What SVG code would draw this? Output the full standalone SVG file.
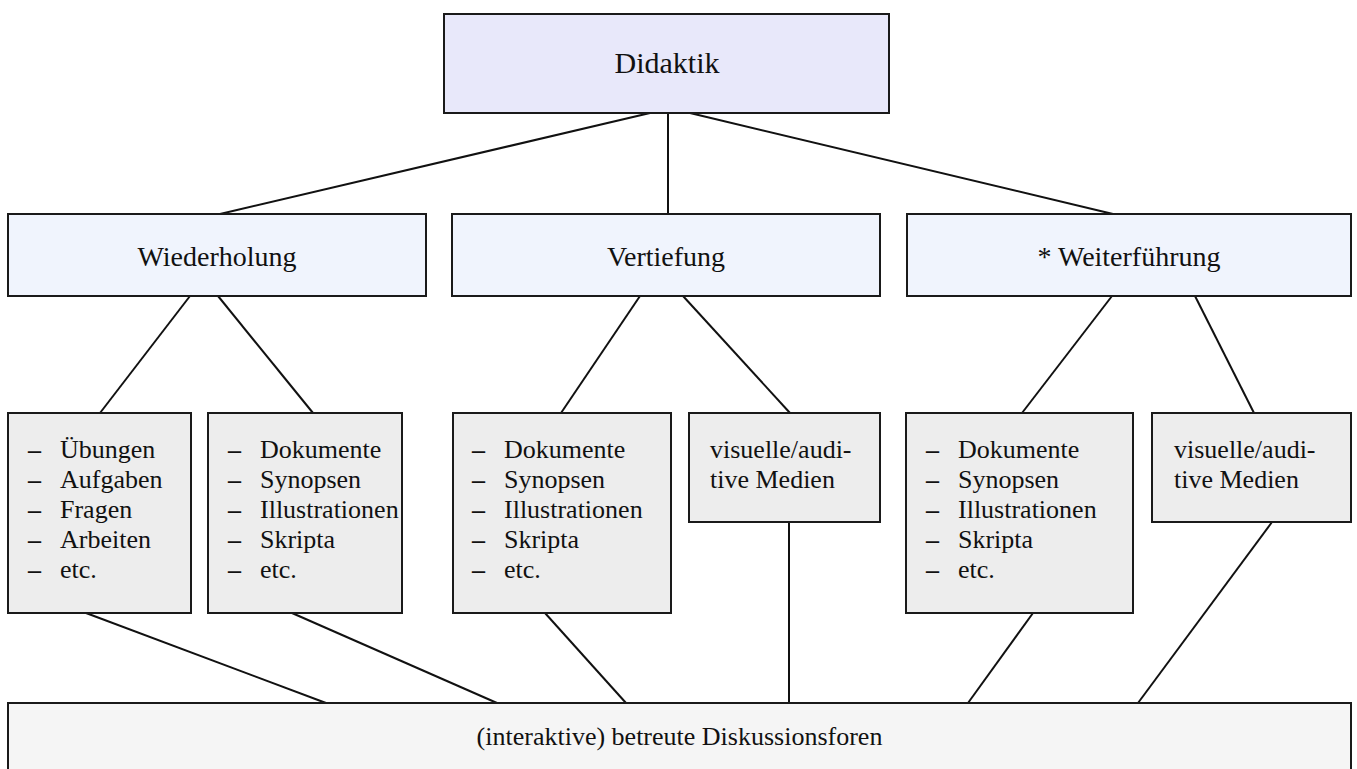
<svg xmlns="http://www.w3.org/2000/svg" width="1357" height="769" viewBox="0 0 1357 769">
<style>
  .box { stroke: #1a1a1a; stroke-width: 2; }
  .top { fill: #e8e8fa; }
  .mid { fill: #f0f4fd; }
  .leaf { fill: #ededed; }
  .base { fill: #f5f5f5; }
  text { font-family: "Liberation Serif", "Times New Roman", serif; fill: #111; }
  .t30 { font-size: 30px; }
  .t28 { font-size: 28px; }
  .t26 { font-size: 26px; }
  .dash { font-weight: bold; }
  .conn line { stroke: #111; stroke-width: 2; }
</style>
<rect width="1357" height="769" fill="#ffffff"/>
<g id="connectors" class="conn">
  <line x1="650" y1="113" x2="220" y2="214"/>
  <line x1="668" y1="113" x2="668" y2="214"/>
  <line x1="690" y1="113" x2="1113" y2="214"/>
  <line x1="190" y1="296" x2="100" y2="413"/>
  <line x1="218" y1="296" x2="313" y2="413"/>
  <line x1="640" y1="296" x2="561" y2="413"/>
  <line x1="683" y1="296" x2="790" y2="413"/>
  <line x1="1112" y1="296" x2="1022" y2="413"/>
  <line x1="1195" y1="296" x2="1254" y2="413"/>
  <line x1="86" y1="613" x2="326" y2="703"/>
  <line x1="292" y1="613" x2="497" y2="703"/>
  <line x1="545" y1="613" x2="626" y2="703"/>
  <line x1="789" y1="522" x2="789" y2="703"/>
  <line x1="1033" y1="613" x2="968" y2="703"/>
  <line x1="1272" y1="522" x2="1138" y2="703"/>
</g>
<g id="didaktik">
  <rect class="box top" x="444" y="14" width="445" height="99"/>
  <text class="t30" x="667" y="73" text-anchor="middle">Didaktik</text>
</g>
<g id="wiederholung">
  <rect class="box mid" x="8" y="214" width="418" height="82"/>
  <text class="t28" x="217" y="266" text-anchor="middle">Wiederholung</text>
</g>
<g id="vertiefung">
  <rect class="box mid" x="452" y="214" width="428" height="82"/>
  <text class="t28" x="666" y="266" text-anchor="middle">Vertiefung</text>
</g>
<g id="weiterfuehrung">
  <rect class="box mid" x="907" y="214" width="444" height="82"/>
  <text class="t28" x="1129" y="266" text-anchor="middle">* Weiterführung</text>
</g>
<g id="uebungen">
  <rect class="box leaf" x="8" y="413" width="183" height="200"/>
  <text class="t26 dash" x="28" y="458">–</text><text class="t26" x="60" y="458">Übungen</text>
  <text class="t26 dash" x="28" y="488">–</text><text class="t26" x="60" y="488">Aufgaben</text>
  <text class="t26 dash" x="28" y="518">–</text><text class="t26" x="60" y="518">Fragen</text>
  <text class="t26 dash" x="28" y="548">–</text><text class="t26" x="60" y="548">Arbeiten</text>
  <text class="t26 dash" x="28" y="578">–</text><text class="t26" x="60" y="578">etc.</text>
</g>
<g id="dokumente1">
  <rect class="box leaf" x="208" y="413" width="194" height="200"/>
  <text class="t26 dash" x="228" y="458">–</text><text class="t26" x="260" y="458">Dokumente</text>
  <text class="t26 dash" x="228" y="488">–</text><text class="t26" x="260" y="488">Synopsen</text>
  <text class="t26 dash" x="228" y="518">–</text><text class="t26" x="260" y="518">Illustrationen</text>
  <text class="t26 dash" x="228" y="548">–</text><text class="t26" x="260" y="548">Skripta</text>
  <text class="t26 dash" x="228" y="578">–</text><text class="t26" x="260" y="578">etc.</text>
</g>
<g id="dokumente2">
  <rect class="box leaf" x="453" y="413" width="218" height="200"/>
  <text class="t26 dash" x="472" y="458">–</text><text class="t26" x="504" y="458">Dokumente</text>
  <text class="t26 dash" x="472" y="488">–</text><text class="t26" x="504" y="488">Synopsen</text>
  <text class="t26 dash" x="472" y="518">–</text><text class="t26" x="504" y="518">Illustrationen</text>
  <text class="t26 dash" x="472" y="548">–</text><text class="t26" x="504" y="548">Skripta</text>
  <text class="t26 dash" x="472" y="578">–</text><text class="t26" x="504" y="578">etc.</text>
</g>
<g id="medien1">
  <rect class="box leaf" x="689" y="413" width="191" height="109"/>
  <text class="t26" x="710" y="458">visuelle/audi-</text>
  <text class="t26" x="710" y="488">tive Medien</text>
</g>
<g id="dokumente3">
  <rect class="box leaf" x="906" y="413" width="227" height="200"/>
  <text class="t26 dash" x="926" y="458">–</text><text class="t26" x="958" y="458">Dokumente</text>
  <text class="t26 dash" x="926" y="488">–</text><text class="t26" x="958" y="488">Synopsen</text>
  <text class="t26 dash" x="926" y="518">–</text><text class="t26" x="958" y="518">Illustrationen</text>
  <text class="t26 dash" x="926" y="548">–</text><text class="t26" x="958" y="548">Skripta</text>
  <text class="t26 dash" x="926" y="578">–</text><text class="t26" x="958" y="578">etc.</text>
</g>
<g id="medien2">
  <rect class="box leaf" x="1152" y="413" width="199" height="109"/>
  <text class="t26" x="1174" y="458">visuelle/audi-</text>
  <text class="t26" x="1174" y="488">tive Medien</text>
</g>
<g id="foren">
  <rect class="box base" x="8" y="703" width="1343" height="80"/>
  <text class="t26" x="679.5" y="745" text-anchor="middle">(interaktive) betreute Diskussionsforen</text>
</g>
</svg>
